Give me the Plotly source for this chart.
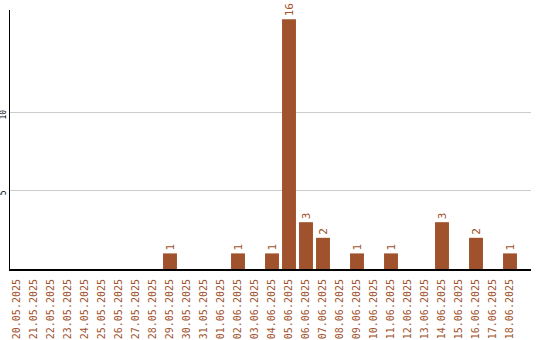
import plotly.graph_objects as go

dates = ["20.05.2025", "21.05.2025", "22.05.2025", "23.05.2025", "24.05.2025",
         "25.05.2025", "26.05.2025", "27.05.2025", "28.05.2025", "29.05.2025",
         "30.05.2025", "31.05.2025", "01.06.2025", "02.06.2025", "03.06.2025",
         "04.06.2025", "05.06.2025", "06.06.2025", "07.06.2025", "08.06.2025",
         "09.06.2025", "10.06.2025", "11.06.2025", "12.06.2025", "13.06.2025",
         "14.06.2025", "15.06.2025", "16.06.2025", "17.06.2025", "18.06.2025"]
counts = [0, 0, 0, 0, 0, 0, 0, 0, 0, 1,
          0, 0, 0, 1, 0, 1, 16, 3, 2, 0,
          1, 0, 1, 0, 0, 3, 0, 2, 0, 1]
y_ticks = [5, 10]

color = "#A0522D"
texts = [str(v) if v > 0 else "" for v in counts]

fig = go.Figure(go.Bar(
    x=list(range(len(dates))), y=counts, marker_color=color, marker_line_width=0,
    text=texts, textposition="outside", textangle=-90,
    textfont=dict(family="DejaVu Sans Mono", size=11, color=color),
    cliponaxis=False, width=0.82,
))
fig.update_layout(
    width=540, height=340, margin=dict(l=10, r=9, t=10, b=71),
    plot_bgcolor="white", paper_bgcolor="white", showlegend=False,
    font=dict(family="DejaVu Sans Mono"),
)
fig.update_xaxes(
    range=[-0.412, 30.235], tickmode="array", tickvals=list(range(len(dates))),
    ticktext=dates, tickangle=-90, tickfont=dict(size=10, color=color),
    showline=True, linecolor="black", linewidth=2, showgrid=False,
    ticks="outside", ticklen=4, tickcolor="rgba(0,0,0,0)", automargin=False,
    zeroline=False,
)
fig.update_yaxes(
    range=[0, 16.6], tickmode="array", tickvals=y_ticks, ticktext=[str(v) for v in y_ticks],
    tickangle=-90, tickfont=dict(size=8, color="#000000"),
    showline=True, linecolor="black", linewidth=1, showgrid=True, gridcolor="#cccccc",
    gridwidth=1, zeroline=False, ticks="", automargin=False, ticklabelstandoff=0,
    ticklabelshift=3,
)
fig.write_html("out.html")
